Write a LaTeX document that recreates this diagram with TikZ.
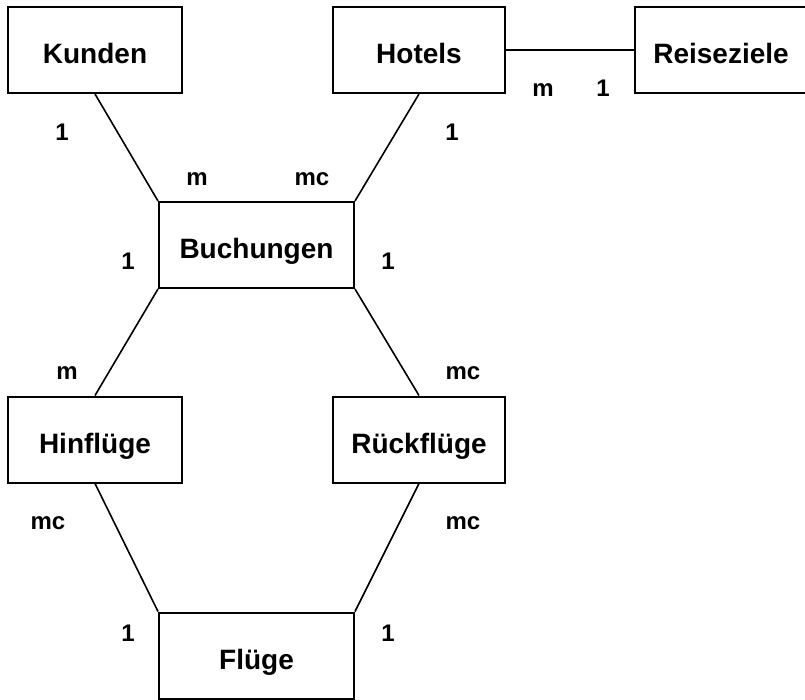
\documentclass[tikz,border=0pt]{standalone}
\usepackage{fontspec}
\setmainfont{Liberation Sans}
\begin{document}
\begin{tikzpicture}[x=1bp,y=-1bp,
  entity/.style={draw=black, line width=2bp, fill=white, inner sep=0pt,
    minimum height=86bp, text height=27bp, text depth=0pt,
    font=\fontsize{28bp}{32bp}\selectfont\bfseries},
  rel/.style={draw=black, line width=1.6bp},
  card/.style={anchor=base, inner sep=0pt,
    font=\fontsize{24bp}{28bp}\selectfont\bfseries}]
  \useasboundingbox (0,0) rectangle (805,700);
  \clip (0,0) rectangle (805,700);

  % entities
  \node[entity, minimum width=174bp] (kunden)  at (95,50)     {Kunden};
  \node[entity, minimum width=172bp] (hotels)  at (419,50)    {Hotels};
  \node[entity, minimum width=172bp] (ziele)   at (721,50)    {Reiseziele};
  \node[entity, minimum width=195bp] (buch)    at (256.5,245) {Buchungen};
  \node[entity, minimum width=174bp] (hin)     at (95,439.5)  {Hinflüge};
  \node[entity, minimum width=172bp] (rueck)   at (419,439.5) {Rückflüge};
  \node[entity, minimum width=195bp] (fluege)  at (256.5,655.5) {Flüge};

  % relationships
  \draw[rel] (kunden.south) -- (buch.north west);
  \draw[rel] (hotels.south) -- (buch.north east);
  \draw[rel] (hotels.east)  -- (ziele.west);
  \draw[rel] (buch.south west) -- (hin.north);
  \draw[rel] (buch.south east) -- (rueck.north);
  \draw[rel] (hin.south)   -- (fluege.north west);
  \draw[rel] (rueck.south) -- (fluege.north east);

  % cardinalities
  \node[card] (c1)  at (62,141)  {1};
  \node[card] (c2)  at (197,185) {m};
  \node[card] (c3)  at (312,185) {mc};
  \node[card] (c4)  at (452,141) {1};
  \node[card] (c5)  at (543,97)  {m};
  \node[card] (c6)  at (603,97)  {1};
  \node[card] (c7)  at (128,269) {1};
  \node[card] (c8)  at (388,269) {1};
  \node[card] (c9)  at (67,379)  {m};
  \node[card] (c10) at (463,379) {mc};
  \node[card] (c11) at (48,529)  {mc};
  \node[card] (c12) at (463,529) {mc};
  \node[card] (c13) at (128,641) {1};
  \node[card] (c14) at (388,641) {1};
\end{tikzpicture}
\end{document}
